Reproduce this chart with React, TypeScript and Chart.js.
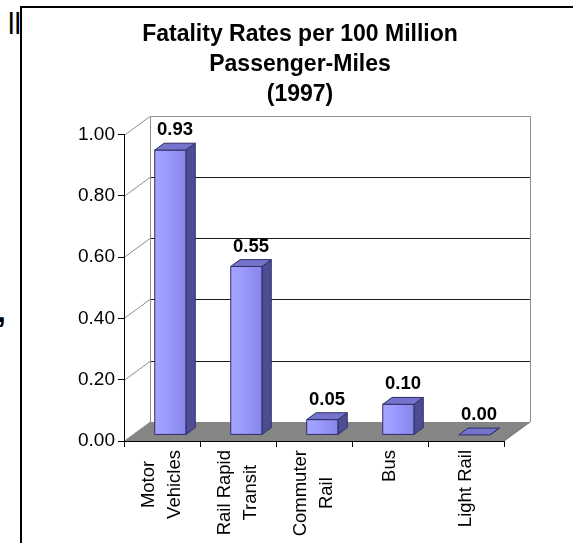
import React, { useEffect, useRef } from "react";
import { Chart, registerables } from "chart.js";

Chart.register(...registerables);

const categories: string[][] = [
  ["Motor", "Vehicles"],
  ["Rail Rapid", "Transit"],
  ["Commuter", "Rail"],
  ["Bus"],
  ["Light Rail"],
];
const fatalityRates = [0.93, 0.55, 0.05, 0.1, 0.0];
const yTickValues = [0, 0.2, 0.4, 0.6, 0.8, 1.0];
const titleLines = ["Fatality Rates per 100 Million", "Passenger-Miles", "(1997)"];

const FONT = "'Liberation Sans', Arial, Helvetica, sans-serif";
const DX = 26;
const DY = -19;
const BAR_FRONT = 0.32;
const BAR_BACK = 0.68;
const XLABEL_SIZE = 18.5;
const XLABEL_LINE = 25.5;

const threeD = {
  id: "threeD",
  beforeDraw(chart: any) {
    const { ctx, chartArea: a, scales } = chart;
    const y = scales.y;
    const L = a.left, R = a.right, T = a.top, B = a.bottom;
    ctx.save();
    ctx.fillStyle = "#ffffff";
    ctx.beginPath();
    ctx.moveTo(L, T);
    ctx.lineTo(L + DX, T + DY);
    ctx.lineTo(L + DX, B + DY);
    ctx.lineTo(L, B);
    ctx.closePath();
    ctx.fill();
    ctx.fillRect(L + DX, T + DY, R - L, B - T);
    ctx.fillStyle = "#858585";
    ctx.beginPath();
    ctx.moveTo(L, B);
    ctx.lineTo(R, B);
    ctx.lineTo(R + DX, B + DY);
    ctx.lineTo(L + DX, B + DY);
    ctx.closePath();
    ctx.fill();
    ctx.lineWidth = 1;
    for (const v of yTickValues) {
      const yy = Math.round(y.getPixelForValue(v)) + 0.5;
      if (v > 0 && v < 1) {
        ctx.strokeStyle = "#1a1a1a";
        ctx.beginPath();
        ctx.moveTo(L + DX, yy + DY);
        ctx.lineTo(R + DX, yy + DY);
        ctx.stroke();
      }
      ctx.strokeStyle = "#8f8f8f";
      ctx.beginPath();
      ctx.moveTo(L, yy);
      ctx.lineTo(L + DX, yy + DY);
      ctx.stroke();
    }
    ctx.strokeStyle = "#8f8f8f";
    ctx.beginPath();
    ctx.moveTo(L + DX + 0.5, B + DY);
    ctx.lineTo(L + DX + 0.5, Math.round(T + DY) + 0.5);
    ctx.lineTo(R + DX + 0.5, Math.round(T + DY) + 0.5);
    ctx.lineTo(R + DX + 0.5, B + DY);
    ctx.stroke();
    ctx.strokeStyle = "#6a6a6a";
    ctx.beginPath();
    ctx.moveTo(R, B);
    ctx.lineTo(R + DX, B + DY);
    ctx.stroke();
    ctx.restore();
  },
  afterDatasetsDraw(chart: any) {
    const { ctx } = chart;
    const meta = chart.getDatasetMeta(0);
    const fx = DX * BAR_FRONT, fy = DY * BAR_FRONT;
    const ddx = DX * (BAR_BACK - BAR_FRONT), ddy = DY * (BAR_BACK - BAR_FRONT);
    ctx.save();
    ctx.lineWidth = 1;
    ctx.lineJoin = "round";
    meta.data.forEach((bar: any, i: number) => {
      const w = bar.width;
      const l = bar.x - w / 2 + fx;
      const r = bar.x + w / 2 + fx;
      const t = bar.y + fy;
      const b = bar.base + fy;
      ctx.strokeStyle = "#2e2e66";
      ctx.fillStyle = "#4d4d93";
      ctx.beginPath();
      ctx.moveTo(r, t);
      ctx.lineTo(r + ddx, t + ddy);
      ctx.lineTo(r + ddx, b + ddy);
      ctx.lineTo(r, b);
      ctx.closePath();
      ctx.fill();
      ctx.stroke();
      if (b - t > 0.5) {
        const g = ctx.createLinearGradient(l, 0, r, 0);
        g.addColorStop(0, "#a4a4ff");
        g.addColorStop(0.35, "#9c9cff");
        g.addColorStop(1, "#8585ea");
        ctx.fillStyle = g;
        ctx.fillRect(l, t, r - l, b - t);
        ctx.strokeRect(l, t, r - l, b - t);
      }
      ctx.fillStyle = "#7474cc";
      ctx.beginPath();
      ctx.moveTo(l, t);
      ctx.lineTo(r, t);
      ctx.lineTo(r + ddx, t + ddy);
      ctx.lineTo(l + ddx, t + ddy);
      ctx.closePath();
      ctx.fill();
      ctx.stroke();
      ctx.fillStyle = "#000";
      ctx.font = `bold 18.5px ${FONT}`;
      ctx.textAlign = "center";
      ctx.textBaseline = "middle";
      ctx.fillText(fatalityRates[i].toFixed(2), bar.x + DX * 0.5, t - 20);
    });
    ctx.restore();
  },
  afterDraw(chart: any) {
    const { ctx, chartArea: a, scales } = chart;
    const x = scales.x;
    ctx.save();
    ctx.fillStyle = "#000";
    ctx.font = `${XLABEL_SIZE}px ${FONT}`;
    ctx.textAlign = "center";
    ctx.textBaseline = "middle";
    categories.forEach((lines, i) => {
      const xc = x.getPixelForValue(i);
      const maxW = Math.max(...lines.map((s) => ctx.measureText(s).width));
      const n = lines.length;
      lines.forEach((s, j) => {
        const lx = xc + (j - (n - 1) / 2) * XLABEL_LINE;
        ctx.save();
        ctx.translate(lx, a.bottom + 9 + maxW / 2);
        ctx.rotate(-Math.PI / 2);
        ctx.fillText(s, 0, 0);
        ctx.restore();
      });
    });
    ctx.restore();
  },
};

export default function App() {
  const ref = useRef<HTMLCanvasElement>(null);
  useEffect(() => {
    const chart = new Chart(ref.current as HTMLCanvasElement, {
      type: "bar",
      data: {
        labels: categories,
        datasets: [
          {
            data: fatalityRates,
            backgroundColor: "rgba(0,0,0,0)",
            borderWidth: 0,
            barPercentage: 0.41,
            categoryPercentage: 1,
          },
        ],
      },
      options: {
        responsive: false,
        maintainAspectRatio: false,
        devicePixelRatio: 1,
        animation: false,
        events: [],
        layout: { padding: { left: 27, right: 0, top: 20, bottom: 0 } },
        plugins: {
          legend: { display: false },
          tooltip: { enabled: false },
          title: {
            display: true,
            text: titleLines,
            color: "#000",
            font: { family: FONT, size: 23, weight: "bold", lineHeight: 1.3 },
            padding: { top: 0, bottom: 25 },
          },
        },
        scales: {
          x: {
            type: "category",
            grid: {
              display: true,
              drawOnChartArea: false,
              drawTicks: true,
              tickLength: 6,
              color: "#000",
            },
            border: { display: true, color: "#000" },
            ticks: { display: false },
            afterFit: (s: any) => {
              s.height = 102;
            },
          },
          y: {
            type: "linear",
            min: 0,
            max: 1,
            afterBuildTicks: (s: any) => {
              s.ticks = yTickValues.map((v) => ({ value: v }));
            },
            ticks: {
              color: "#000",
              padding: 3,
              font: { family: FONT, size: 19 },
              callback: (v: any) => Number(v).toFixed(2),
            },
            grid: {
              display: true,
              drawOnChartArea: false,
              drawTicks: true,
              tickLength: 6,
              color: "#000",
            },
            border: { display: true, color: "#000" },
            afterFit: (s: any) => {
              s.width = 97;
            },
          },
          yRight: {
            type: "linear",
            position: "right",
            display: true,
            grid: { display: false },
            ticks: { display: false },
            border: { display: false },
            afterFit: (s: any) => {
              s.width = 69;
            },
          },
        },
      },
      plugins: [threeD],
    } as any);
    return () => chart.destroy();
  }, []);

  return (
    <div
      style={{
        position: "fixed",
        left: 0,
        top: 0,
        width: 573,
        height: 543,
        overflow: "hidden",
        background: "#fff",
      }}
    >
      <div
        style={{
          position: "absolute",
          left: 20,
          top: 6,
          width: 556,
          height: 600,
          border: "2px solid #000",
          background: "#fff",
        }}
      />
      <div
        style={{
          position: "absolute",
          left: 8,
          top: 10,
          fontFamily: FONT,
          fontSize: 29,
          lineHeight: 1,
          color: "#000",
        }}
      >
        ll
      </div>
      <div
        style={{
          position: "absolute",
          left: -3,
          top: 295,
          fontFamily: FONT,
          fontSize: 32,
          fontWeight: "bold",
          lineHeight: 1,
          color: "#000",
        }}
      >
        ,
      </div>
      <canvas
        ref={ref}
        width={573}
        height={543}
        style={{ position: "absolute", left: 0, top: 0, width: 573, height: 543 }}
      />
    </div>
  );
}
